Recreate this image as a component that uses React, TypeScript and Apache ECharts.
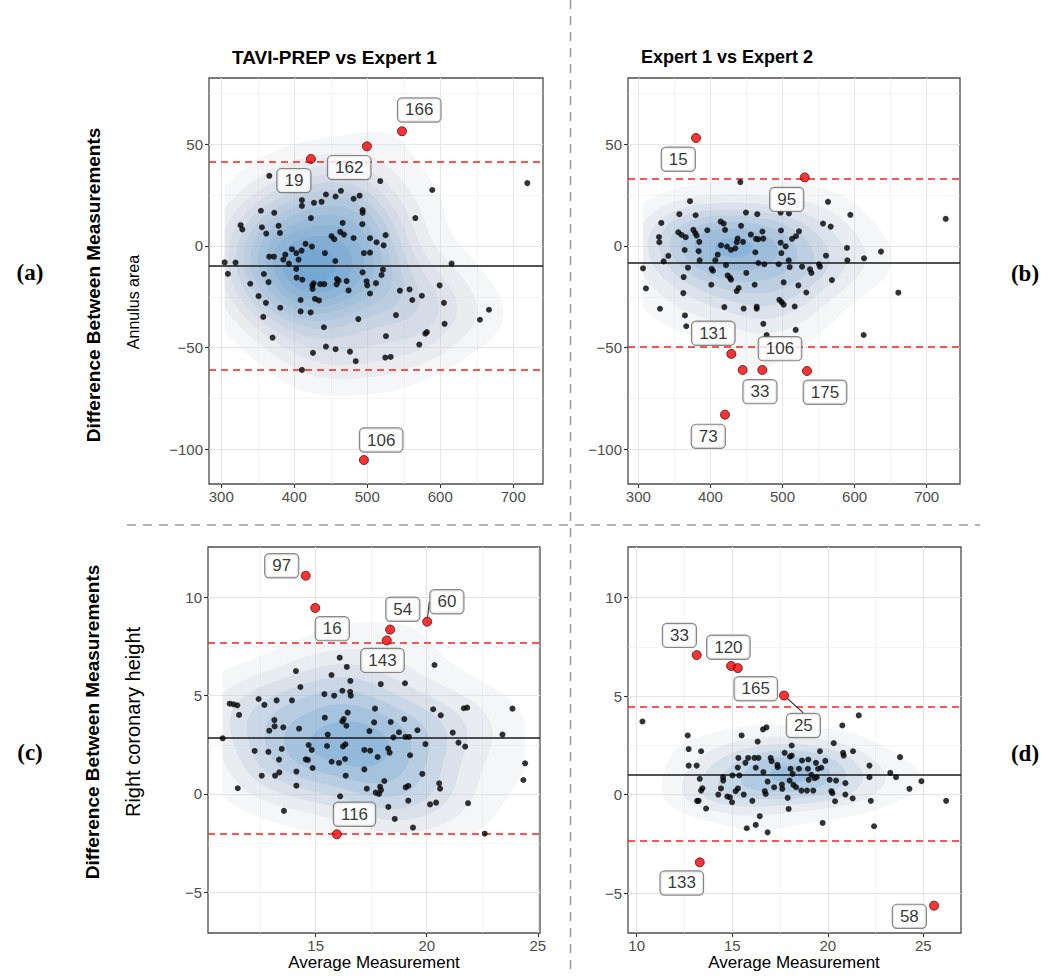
import React, { useEffect, useRef } from "react";
import * as echarts from "echarts";

const FONT = "'Liberation Sans', Arial, Helvetica, sans-serif";

// ---------------- Panel (a): Annulus area, TAVI-PREP vs Expert 1 ----------------
const areaTaviPoints: number[][] = [
  [365.8, 34.5], [517.8, 31.9], [719.2, 30.9], [589, 27.5], [463.9, 27.1], [443.4, 25.3], [456.6, 24.3],
  [489.5, 24.7], [481.3, 23.2], [410.5, 22.5], [427, 21.2], [437.4, 21.7], [410.5, 19.7], [493.6, 17.6],
  [493.6, 16.3], [354.3, 17.3], [372.6, 16.3], [565.8, 13.7], [422.8, 13.7], [466.2, 11.3], [493.2, 10.7],
  [326.5, 10.2], [328.8, 8.1], [355.7, 9.2], [378.5, 9.9], [361.6, 6.1], [380.4, 6.4], [463, 6.9], [468, 5.6],
  [451.1, 4.8], [454.8, 3.3], [525.1, 5.3], [481.3, 3.9], [503.7, 3.8], [512.8, 1.8], [522.4, 0.3], [415.5, 1.0],
  [424.2, -0.3], [396.8, -1.6], [410, -2.3], [402.7, -3.5], [442, -3.5], [495.4, -3.5], [503.7, -3.3],
  [387.7, -4.3], [365.8, -5.3], [372.1, -5.3], [405.9, -6.7], [385, -6.7], [456.2, -7.4], [304.6, -8.1],
  [319.6, -8.2], [392.7, -8.7], [615.5, -8.7], [402.7, -11.3], [309.1, -13.7], [521.5, -11.7], [493.6, -13],
  [519.6, -14.3], [403.2, -15.6], [411, -16.6], [460.7, -17.1], [471.7, -17.3], [499, -17.4], [511.9, -18.3],
  [339.7, -18.6], [358.4, -13.8], [364.8, -17.8], [426.5, -18.4], [435.6, -18.8], [441.1, -18.8], [458, -18.9],
  [458.4, -16.3], [500, -19.4], [425.1, -21.1], [424.7, -19.4], [474.4, -21.9], [503.7, -23.4], [544.7, -22.0],
  [557.9, -21.4], [599.1, -19.4], [351.1, -24.7], [428.3, -26], [433.8, -26.8], [408.7, -26.6], [361.2, -28],
  [561.6, -26.6], [574.8, -24.5], [605, -28], [380.8, -30.4], [408.7, -32.2], [422.4, -32.7], [357.5, -34.9],
  [487.7, -36], [539.3, -34], [666.7, -31.4], [654.3, -36.3], [605.9, -38.3], [440.6, -40], [581.7, -42.4],
  [579.5, -43.1], [525.6, -44.4], [370.3, -45.1], [571.2, -48.5], [443.4, -49.5], [456.6, -50.8], [476.3, -52],
  [425.6, -52.6], [524.7, -54.9], [532, -54.6], [484.2, -56.7], [410.5, -61],
];
const areaTaviOutliers: number[][] = [[422.8, 42.8], [499.5, 49.0], [547.5, 56.4], [495.4, -105.3]];
const areaTaviOutlierIds = ["19", "162", "166", "106"];
const areaTaviLimits = [-9.8, 41.3, -61.0]; // mean, upper LoA, lower LoA

// ---------------- Panel (b): Annulus area, Expert 1 vs Expert 2 ----------------
const areaExpertPoints: number[][] = [
  [441.5, 31.4], [371.7, 22], [563.1, 21.7], [356.9, 15.6], [379.5, 15.1], [449.3, 16.4], [465, 15.6],
  [508.9, 16], [497.4, 16.4], [594.1, 15.3], [726.4, 13.3], [331.9, 11.3], [414.2, 12], [418.4, 11],
  [442.5, 9.9], [556.2, 11], [566.8, 9.5], [395.7, 7.7], [376.3, 7.9], [420.3, 7.9], [472.1, 7.1],
  [497.9, 7.6], [456.1, 5.6], [522.9, 7.2], [355.5, 6.7], [360.1, 5.4], [365.7, 4.3], [379, 6.3],
  [380.9, 5.1], [328.7, 4.4], [329.1, 1.8], [437.8, 3.6], [436.5, 1.8], [445.2, 2], [463.2, 3.5],
  [466.4, 3.3], [473.4, 3.6], [513.2, 3.5], [518.7, 4.8], [384.6, 2], [414.7, 0.3], [497.4, 1.6],
  [504.3, -0.2], [423, -0.3], [410.1, -4.3], [428.6, -2], [434.6, -1.2], [462.3, -3.1], [498.4, -3.5],
  [364.3, -2], [383.7, -2.6], [341.6, -4.9], [335.1, -7.6], [385.1, -7.1], [406.8, -7.1], [421.6, -9.4],
  [466.5, -8.4], [474.8, -9], [494.7, -9], [508.6, -7.1], [510, -10.4], [527.1, -10.2], [538.2, -11.5],
  [540.1, -13.3], [552, -10.2], [560.3, -4.8], [589.5, -1], [590, -7.1], [613.1, -6.1], [636.6, -2.8],
  [550.6, -9], [568.6, -16.8], [660.7, -23], [612.6, -43.8], [306.5, -11], [310.6, -20.9], [368.9, -10.7],
  [362.9, -15.3], [401.7, -11.3], [403.5, -12.2], [401.2, -19.1], [423.9, -14.5], [427.2, -15.6],
  [428.6, -16.6], [449.8, -13.3], [461.4, -19.1], [439.2, -20.7], [436.5, -22.2], [501.6, -17.9], [522, -19.4],
  [533, -22.9], [362.4, -23.2], [330.1, -30.9], [419.3, -30.1], [446.1, -30.8], [464.2, -29.9], [464.2, -30.9],
  [495.6, -26.5], [498.8, -27.6], [501.6, -28.9], [516.9, -29.8], [364.7, -34.2], [366.5, -39.5],
  [473.4, -38.3], [518.3, -41.3], [478, -43.8],
];
const areaExpertOutliers: number[][] = [
  [380, 53.1], [530.8, 33.7], [429, -53.1], [444.7, -61], [472, -61], [534, -61.5], [420.2, -83],
];
const areaExpertOutlierIds = ["15", "95", "131", "33", "106", "175", "73"];
const areaExpertLimits = [-8.2, 33.1, -49.7];

// ---------------- Panel (c): Right coronary height, TAVI-PREP vs Expert 1 ----------------
const rcaTaviPoints: number[][] = [
  [10.81, 2.83], [11.13, 4.59], [11.3, 4.56], [11.47, 4.51], [11.55, 4.02], [11.49, 0.29], [12.25, 2.19],
  [12.43, 4.83], [12.69, 4.53], [12.57, 0.93], [12.87, 2.14], [12.91, 3.22], [13.14, 3.76], [13.15, 3.44],
  [13.24, 4.76], [13.17, 0.93], [13.35, 1.75], [13.36, 1.1], [13.47, 2.29], [13.54, 3.39], [13.57, -0.86],
  [13.93, 4.76], [14.11, 6.25], [14.13, 1.14], [14.13, 0.42], [14.25, 3.32], [14.31, 5.44], [14.55, 1.76],
  [14.65, 1.73], [14.68, 2.49], [14.82, 2.24], [14.86, 1.32], [15.39, 5.08], [15.41, 3.88], [15.51, 2.44],
  [15.54, 3.02], [15.71, 6.05], [15.72, 1.64], [15.83, 5.0], [16.05, 1.58], [16.08, 6.93], [16.1, -0.12],
  [16.2, 5.25], [16.2, 3.69], [16.26, 3.81], [16.23, 2.42], [16.32, 1.78], [16.34, 2.53], [16.35, 0.93],
  [16.38, 3.47], [16.4, 6.46], [16.44, 4.14], [16.56, 5.75], [16.55, 5.2], [16.58, 5.0], [17.19, 2.24],
  [17.19, 1.25], [17.3, 0.27], [17.42, 3.2], [17.45, 2.2], [17.63, 3.64], [17.67, 4.34], [17.7, 0.07],
  [17.79, 1.88], [17.85, 0], [17.9, 0.37], [17.93, 5.59], [17.94, 0.2], [18.09, 0.66], [18.27, -0.66],
  [18.26, 2.31], [18.33, 2.1], [18.38, 3.66], [18.5, 2.88], [18.56, -1.27], [18.75, 3.14], [18.99, 3.81],
  [19.02, 5.63], [19.04, 2.9], [19.05, 0.34], [19.17, 0.41], [19.17, -0.34], [19.2, 2.9], [19.25, 1.97],
  [19.38, -1.71], [19.58, 3.24], [19.8, 1.02], [19.94, 2.54], [20.15, -0.53], [20.29, 4.31], [20.35, 6.56],
  [20.42, -0.44], [20.56, 0.54], [20.6, 0.27], [20.63, 4.0], [21.17, 3.12], [21.43, 2.61], [21.67, 4.36],
  [21.82, 4.39], [21.73, 2.41], [21.86, -0.47], [22.61, -2.02], [23.41, 3.02], [23.86, 4.34], [24.35, 0.71],
  [24.43, 1.56],
];
const rcaTaviOutliers: number[][] = [
  [14.55, 11.1], [14.98, 9.46], [18.35, 8.36], [18.2, 7.81], [20.02, 8.76], [15.95, -2.05],
];
const rcaTaviOutlierIds = ["97", "16", "54", "143", "60", "116"];
const rcaTaviLimits = [2.84, 7.69, -2.03];

// ---------------- Panel (d): Right coronary height, Expert 1 vs Expert 2 ----------------
const rcaExpertPoints: number[][] = [
  [10.3, 3.71], [12.67, 3.0], [12.72, 2.31], [12.72, 1.47], [13.14, 1.47], [13.37, 2.2], [13.3, 0.8],
  [13.44, 0.32], [13.37, 0.2], [13.16, -0.32], [13.24, -0.32], [13.63, -0.71], [14.27, 0], [14.41, 0.31],
  [14.52, 0.88], [14.53, 0.71], [14.74, -0.1], [14.88, -0.14], [14.99, -0.39], [15.01, 0.97], [15.18, 0.17],
  [15.3, 0.31], [15.32, 1.86], [15.29, 1.37], [15.37, 0.97], [15.49, 3.0], [15.6, 0], [15.69, 1.61],
  [15.76, -1.71], [15.83, 1.86], [16.05, -0.32], [16.16, 1.86], [16.23, -1.54], [16.33, 2.69], [16.23, 1.36],
  [16.37, 1.86], [16.44, -1.1], [16.61, 3.31], [16.79, 3.41], [16.63, 1.14], [16.7, 0.17], [16.75, 0.03],
  [16.85, -1.92], [16.85, 0.66], [17.01, 1.86], [17.06, 1.69], [17.19, 0.37], [17.36, 1.51], [17.38, 1.39],
  [17.6, 0.51], [17.62, 0.29], [17.74, 2.12], [17.9, -0.17], [17.95, -0.73], [18.0, 0.71], [18.02, 1.93],
  [18.05, 1.31], [18.11, 2.49], [18.11, 1.98], [18.16, 1.05], [18.2, 0.49], [18.34, 0.37], [18.49, 1.31],
  [18.62, 0.2], [18.65, 1.73], [18.91, 0.2], [18.96, 1.31], [18.98, 1.78], [19.0, 0.75], [19.14, 1.0],
  [19.24, 0.2], [19.31, 0.83], [19.38, 1.61], [19.42, 0.88], [19.49, 1.31], [19.59, 2.2], [19.66, 1.36],
  [19.73, -1.44], [19.87, 1.71], [20.1, 0.75], [20.19, 0.17], [20.24, 0.07], [20.31, 2.61], [20.38, -0.34],
  [20.43, 0.71], [20.76, 3.51], [20.8, 2.12], [20.83, 1.98], [20.92, 0.58], [20.92, 0], [21.3, -0.19],
  [21.32, 2.2], [21.62, 4.02], [22.18, 1.47], [22.18, 0.88], [22.25, -0.32], [22.42, -1.61], [23.27, 1.1],
  [23.57, 0.88], [23.78, 1.9], [24.27, 0.29], [24.9, 0.68], [26.19, -0.32],
];
const rcaExpertOutliers: number[][] = [
  [13.14, 7.08], [14.94, 6.53], [15.29, 6.42], [17.71, 5.03], [13.3, -3.44], [25.56, -5.64],
];
const rcaExpertOutlierIds = ["33", "120", "165", "25", "133", "58"];
const rcaExpertLimits = [1.03, 4.44, -2.37];

// ---------------- Axis breaks ----------------
const areaXTicks = [300, 400, 500, 600, 700];
const areaXMinor = [350, 450, 550, 650];
const areaYTicks = [-100, -50, 0, 50];
const areaYMinor = [-75, -25, 25, 75];
const rcaTaviXTicks = [15, 20, 25];
const rcaExpertXTicks = [10, 15, 20, 25];
const rcaXMinor = [12.5, 17.5, 22.5];
const rcaYTicks = [-5, 0, 5, 10];
const rcaYMinor = [-2.5, 2.5, 7.5];

// ---------------- Layout (pixels / offsets, not data) ----------------
const layoutA = { left: 209, top: 78, width: 334, height: 406, xMin: 283.2, xMax: 740.7, yMin: -117.1, yMax: 82.6 };
const layoutB = { left: 628, top: 78, width: 332, height: 406, xMin: 285.7, xMax: 746.2, yMin: -117.1, yMax: 82.6 };
const layoutC = { left: 208, top: 547, width: 332, height: 386, xMin: 10.15, xMax: 25.1, yMin: -7.07, yMax: 12.56 };
const layoutD = { left: 628, top: 547, width: 333, height: 386, xMin: 9.545, xMax: 26.97, yMin: -7.03, yMax: 12.57 };
const offsetsA = [[-17, 21.7], [-17.7, 21.3], [17.3, -21.3], [17.3, -20]];
const offsetsB = [[-17.7, 21.3], [-18, 22], [-18, -20.7], [17.3, 21.7], [17.7, -21.3], [18, 21.3], [-16.7, 21.7]];
const offsetsC = [[-24, -10], [17, 20.7], [12.7, -20.3], [-4.3, 20], [19.7, -20], [17.7, -20]];
const offsetsD = [[-17.3, -19.7], [-2.7, -18.7], [18, 20.7], [19.3, 30], [-18, 20.7], [-24.7, 10.7]];
const leaderC = ["60"];
const leaderD = ["25"];

// ---------------- 2D kernel density (MASS::kde2d style) ----------------
const BW_ADJUST = 1.4;
function quantile7(sorted: number[], p: number) {
  const h = (sorted.length - 1) * p;
  const lo = Math.floor(h);
  const hi = Math.min(lo + 1, sorted.length - 1);
  return sorted[lo] + (h - lo) * (sorted[hi] - sorted[lo]);
}
function bandwidthNrd(v: number[]) {
  const n = v.length;
  const mean = v.reduce((a, b) => a + b, 0) / n;
  const sd = Math.sqrt(v.reduce((a, b) => a + (b - mean) * (b - mean), 0) / (n - 1));
  const s = [...v].sort((a, b) => a - b);
  const iqr = quantile7(s, 0.75) - quantile7(s, 0.25);
  return 4 * 1.06 * Math.min(sd, iqr / 1.34) * Math.pow(n, -0.2);
}
function kde2d(pts: number[][], n = 100) {
  const xs = pts.map((p) => p[0]);
  const ys = pts.map((p) => p[1]);
  const hx = (bandwidthNrd(xs) * BW_ADJUST) / 4;
  const hy = (bandwidthNrd(ys) * BW_ADJUST) / 4;
  const x0 = Math.min(...xs), x1 = Math.max(...xs);
  const y0 = Math.min(...ys), y1 = Math.max(...ys);
  const gx: number[] = [], gy: number[] = [];
  for (let i = 0; i < n; i++) {
    gx.push(x0 + ((x1 - x0) * i) / (n - 1));
    gy.push(y0 + ((y1 - y0) * i) / (n - 1));
  }
  const dn = (u: number) => Math.exp(-0.5 * u * u) / Math.sqrt(2 * Math.PI);
  const N = pts.length;
  const ax = gx.map((g) => xs.map((x) => dn((g - x) / hx)));
  const ay = gy.map((g) => ys.map((y) => dn((g - y) / hy)));
  const z: number[][] = [];
  for (let i = 0; i < n; i++) {
    const row: number[] = [];
    for (let j = 0; j < n; j++) {
      let s = 0;
      const a = ax[i], b = ay[j];
      for (let k = 0; k < N; k++) s += a[k] * b[k];
      row.push(s / (N * hx * hy));
    }
    z.push(row);
  }
  return { gx, gy, z };
}
function pretty(lo: number, hi: number, n = 10) {
  const cell = (hi - lo) / n;
  const base = Math.pow(10, Math.floor(Math.log10(cell)));
  let unit = base;
  const h = 1.5, h5 = 0.5 + 1.5 * h;
  if (2 * base - cell < h * (cell - unit)) {
    unit = 2 * base;
    if (5 * base - cell < h5 * (cell - unit)) {
      unit = 5 * base;
      if (10 * base - cell < h * (cell - unit)) unit = 10 * base;
    }
  }
  const ns = Math.floor(lo / unit + 1e-7), nu = Math.ceil(hi / unit - 1e-7);
  const out: number[] = [];
  for (let k = ns; k <= nu; k++) out.push(k * unit);
  return out;
}
// Marching squares: rings of region z >= L (grid edges closed), high region kept on the left.
function contourRings(gx: number[], gy: number[], z: number[][], L: number) {
  const nx = gx.length, ny = gy.length;
  const ex = (gx[nx - 1] - gx[0]) * 1e-4, ey = (gy[ny - 1] - gy[0]) * 1e-4;
  const px = [gx[0] - ex, ...gx, gx[nx - 1] + ex];
  const py = [gy[0] - ey, ...gy, gy[ny - 1] + ey];
  const NX = nx + 2, NY = ny + 2;
  const val = (i: number, j: number) => (i === 0 || j === 0 || i === NX - 1 || j === NY - 1 ? 0 : z[i - 1][j - 1]);
  const next = new Map<number, number>();
  const pts = new Map<number, number[]>();
  const hid = (i: number, j: number) => (j * NX + i) * 2;
  const vid = (i: number, j: number) => (j * NX + i) * 2 + 1;
  for (let i = 0; i < NX - 1; i++) {
    for (let j = 0; j < NY - 1; j++) {
      const cz = [val(i, j), val(i + 1, j), val(i + 1, j + 1), val(i, j + 1)];
      const b = cz.map((v) => v >= L);
      if (b[0] === b[1] && b[1] === b[2] && b[2] === b[3]) continue;
      const cx = [px[i], px[i + 1], px[i + 1], px[i]];
      const cy = [py[j], py[j], py[j + 1], py[j + 1]];
      const eid = [hid(i, j), vid(i + 1, j), hid(i, j + 1), vid(i, j)];
      const cr: { id: number; up: boolean }[] = [];
      for (let k = 0; k < 4; k++) {
        const k2 = (k + 1) % 4;
        if (b[k] !== b[k2]) {
          const t = (L - cz[k]) / (cz[k2] - cz[k]);
          pts.set(eid[k], [cx[k] + t * (cx[k2] - cx[k]), cy[k] + t * (cy[k2] - cy[k])]);
          cr.push({ id: eid[k], up: !b[k] });
        }
      }
      if (cr.length === 2) {
        const P = cr[0].up ? cr[0] : cr[1];
        const Q = cr[0].up ? cr[1] : cr[0];
        next.set(Q.id, P.id);
      } else if (cr.length === 4) {
        const c = cr[0].up ? cr : [cr[1], cr[2], cr[3], cr[0]];
        const [P1, Q1, P2, Q2] = c;
        const centerHigh = (cz[0] + cz[1] + cz[2] + cz[3]) / 4 >= L;
        if (centerHigh) {
          next.set(Q1.id, P2.id);
          next.set(Q2.id, P1.id);
        } else {
          next.set(Q1.id, P1.id);
          next.set(Q2.id, P2.id);
        }
      }
    }
  }
  const rings: number[][][] = [];
  const seen = new Set<number>();
  for (const start of next.keys()) {
    if (seen.has(start)) continue;
    const ring: number[][] = [];
    let cur: number | undefined = start;
    while (cur !== undefined && !seen.has(cur)) {
      seen.add(cur);
      ring.push(pts.get(cur) as number[]);
      cur = next.get(cur);
    }
    if (ring.length > 2) rings.push(ring);
  }
  return rings;
}
function densityBands(pts: number[][]) {
  const { gx, gy, z } = kde2d(pts, 100);
  let zmin = Infinity, zmax = -Infinity;
  for (const r of z) for (const v of r) { if (v < zmin) zmin = v; if (v > zmax) zmax = v; }
  const levels = pretty(zmin, zmax, 10).filter((l) => l > zmin && l < zmax);
  return { levels, rings: levels.map((L) => contourRings(gx, gy, z, L)) };
}

const LOW = [205, 208, 213];
const HIGH = [72, 146, 212];
const ALPHA = 0.2;

const tickFmt = (v: number) => (v < 0 ? "\u2212" + Math.abs(v) : String(v));

function buildPanel(idx: number, lay: any, pts: number[][], outs: number[][], ids: string[], limits: number[],
  xTicks: number[], xMinor: number[], yTicks: number[], yMinor: number[], offsets: number[][], leaders: string[]) {
  const dens = densityBands([...pts, ...outs]);
  const nL = dens.levels.length;
  const lmin = dens.levels[0], lmax = dens.levels[nL - 1];
  const colorOf = (L: number) => {
    const t = lmax > lmin ? (L - lmin) / (lmax - lmin) : 0;
    const c = LOW.map((v, k) => Math.round(v + (HIGH[k] - v) * t));
    return `rgba(${c[0]},${c[1]},${c[2]},${ALPHA})`;
  };
  const major = { color: "#e6e6e6", width: 1.1, type: "solid" };
  const minor = { color: "#efefef", width: 0.6, type: "solid" };
  const gridLines = [
    ...xTicks.map((v) => ({ xAxis: v, lineStyle: major })),
    ...xMinor.map((v) => ({ xAxis: v, lineStyle: minor })),
    ...yTicks.map((v) => ({ yAxis: v, lineStyle: major })),
    ...yMinor.map((v) => ({ yAxis: v, lineStyle: minor })),
  ];
  const grid = {
    left: lay.left, top: lay.top, width: lay.width, height: lay.height, show: true,
    borderColor: "#4d4d4d", borderWidth: 1.3, backgroundColor: "#ffffff", containLabel: false, outerBoundsMode: "none",
  };
  const axisCommon = {
    type: "value", gridIndex: idx,
    axisLine: { show: false, onZero: false },
    splitLine: { show: false },
  };
  const xAxis = {
    ...axisCommon, min: lay.xMin, max: lay.xMax,
    axisTick: { show: true, customValues: xTicks, length: 4, lineStyle: { color: "#333333", width: 1.1 } },
    axisLabel: { customValues: xTicks, formatter: tickFmt, color: "#4d4d4d", fontSize: 15, fontFamily: FONT, margin: 5 },
  };
  const yAxis = {
    ...axisCommon, min: lay.yMin, max: lay.yMax,
    axisTick: { show: true, customValues: yTicks, length: 4, lineStyle: { color: "#333333", width: 1.1 } },
    axisLabel: { customValues: yTicks, formatter: tickFmt, color: "#4d4d4d", fontSize: 15, fontFamily: FONT, margin: 6 },
  };
  const series: any[] = [
    {
      type: "custom", xAxisIndex: idx, yAxisIndex: idx, z: 2, silent: true,
      data: dens.levels.map((_, k) => [lay.xMin + (lay.xMax - lay.xMin) / 2, lay.yMin + (lay.yMax - lay.yMin) / 2, k]),
      encode: { x: 0, y: 1 },
      renderItem: (params: any, api: any) => {
        const k = params.dataIndex;
        const rings = dens.rings[k];
        let d = "";
        for (const ring of rings) {
          ring.forEach((p, i) => {
            const c = api.coord(p);
            d += (i ? "L" : "M") + c[0].toFixed(2) + " " + c[1].toFixed(2);
          });
          d += "Z";
        }
        return { type: "path", shape: { pathData: d }, style: { fill: colorOf(dens.levels[k]), stroke: null } };
      },
      markLine: { silent: true, z: 1, symbol: ["none", "none"], label: { show: false }, animation: false, data: gridLines },
    },
    {
      type: "scatter", xAxisIndex: idx, yAxisIndex: idx, z: 4, silent: true,
      symbol: "circle", symbolSize: 6, itemStyle: { color: "#000000" },
      data: pts,
      markLine: {
        silent: true, z: 3, symbol: ["none", "none"], label: { show: false }, animation: false,
        data: [
          { yAxis: limits[0], lineStyle: { color: "#1a1a1a", width: 1.6, type: "solid" } },
          { yAxis: limits[1], lineStyle: { color: "#ff2020", width: 1.6, type: [7, 5] } },
          { yAxis: limits[2], lineStyle: { color: "#ff2020", width: 1.6, type: [7, 5] } },
        ],
      },
    },
    {
      type: "scatter", xAxisIndex: idx, yAxisIndex: idx, z: 5, silent: true,
      symbol: "circle", symbolSize: 9,
      itemStyle: { color: "#ff0000", borderColor: "#3a0000", borderWidth: 0.9 },
      data: outs.map((p, i) => ({
        value: p,
        name: ids[i],
        labelLine: { show: leaders.includes(ids[i]), lineStyle: { color: "#333333", width: 1.1 } },
      })),
      label: {
        show: true, position: "inside", formatter: (p: any) => p.name,
        color: "#000000", fontSize: 17, fontFamily: FONT, lineHeight: 18,
        backgroundColor: "#ffffff", borderColor: "#6a6a6a", borderWidth: 1.2, borderRadius: 4, padding: [3, 7, 2, 7],
      },
      labelLayout: (params: any) => {
        const o = offsets[params.dataIndex];
        return { dx: o[0], dy: o[1] };
      },
    },
  ];
  return { grid, xAxis, yAxis, series };
}

function txt(text: string, x: number, y: number, size: number, weight: string, opts: any = {}) {
  return {
    type: "text", x, y, rotation: opts.rotation || 0, silent: true,
    style: {
      text, fill: opts.fill || "#000000", fontSize: size, fontWeight: weight, fontFamily: opts.family || FONT,
      align: opts.align || "center", verticalAlign: "middle",
    },
  };
}

export default function App() {
  const ref = useRef<HTMLDivElement>(null);
  useEffect(() => {
    if (!ref.current) return;
    const chart = echarts.init(ref.current, null, { renderer: "svg" });
    const panels = [
      buildPanel(0, layoutA, areaTaviPoints, areaTaviOutliers, areaTaviOutlierIds, areaTaviLimits,
        areaXTicks, areaXMinor, areaYTicks, areaYMinor, offsetsA, []),
      buildPanel(1, layoutB, areaExpertPoints, areaExpertOutliers, areaExpertOutlierIds, areaExpertLimits,
        areaXTicks, areaXMinor, areaYTicks, areaYMinor, offsetsB, []),
      buildPanel(2, layoutC, rcaTaviPoints, rcaTaviOutliers, rcaTaviOutlierIds, rcaTaviLimits,
        rcaTaviXTicks, rcaXMinor, rcaYTicks, rcaYMinor, offsetsC, leaderC),
      buildPanel(3, layoutD, rcaExpertPoints, rcaExpertOutliers, rcaExpertOutlierIds, rcaExpertLimits,
        rcaExpertXTicks, rcaXMinor, rcaYTicks, rcaYMinor, offsetsD, leaderD),
    ];
    const serif = "'Liberation Serif', 'DejaVu Serif', serif";
    const dash = { stroke: "#9a9a9a", lineWidth: 1.5, lineDash: [9, 7] };
    const option: any = {
      animation: false,
      backgroundColor: "#ffffff",
      grid: panels.map((p) => p.grid),
      xAxis: panels.map((p) => p.xAxis),
      yAxis: panels.map((p) => p.yAxis),
      series: panels.flatMap((p) => p.series),
      graphic: [
        { type: "line", silent: true, shape: { x1: 570.5, y1: 0, x2: 570.5, y2: 976 }, style: dash },
        { type: "line", silent: true, shape: { x1: 127, y1: 525, x2: 980, y2: 525 }, style: dash },
        txt("TAVI-PREP vs Expert 1", 232, 57, 19, "bold", { align: "left" }),
        txt("Expert 1 vs Expert 2", 641, 57, 18, "bold", { align: "left" }),
        txt("Difference Between Measurements", 93, 285, 19, "bold", { rotation: Math.PI / 2 }),
        txt("Annulus area", 133, 302, 16, "normal", { rotation: Math.PI / 2 }),
        txt("Difference Between Measurements", 92, 722, 19, "bold", { rotation: Math.PI / 2 }),
        txt("Right coronary height", 133, 722, 20, "normal", { rotation: Math.PI / 2 }),
        txt("Average Measurement", 374, 962, 17, "normal"),
        txt("Average Measurement", 794, 962, 17, "normal"),
        txt("(a)", 30, 272, 23, "bold", { family: serif }),
        txt("(b)", 1025, 273, 23, "bold", { family: serif }),
        txt("(c)", 30, 752, 23, "bold", { family: serif }),
        txt("(d)", 1025, 753, 23, "bold", { family: serif }),
      ],
    };
    chart.setOption(option);
    return () => chart.dispose();
  }, []);
  return (
    <div
      ref={ref}
      style={{ position: "absolute", left: 0, top: 0, width: 1057, height: 976, background: "#ffffff" }}
    />
  );
}
